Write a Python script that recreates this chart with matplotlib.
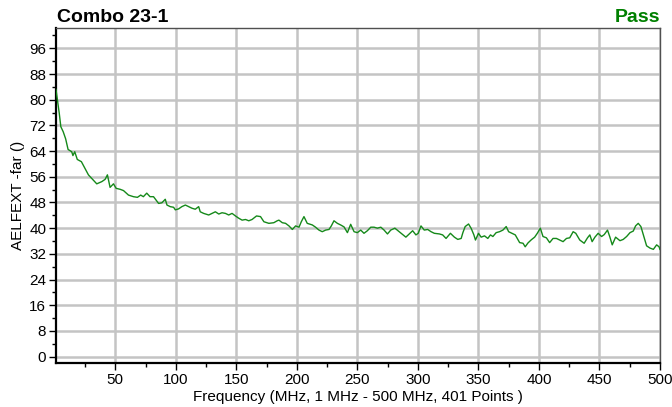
import numpy as np
import matplotlib
matplotlib.use("Agg")
from matplotlib import pyplot as plt
from matplotlib.ticker import MultipleLocator

plt.rcParams['font.family'] = ['Liberation Sans', 'DejaVu Sans']

# frequency (MHz) and AELFEXT far values
freq = [1, 2, 3.7, 5, 7, 9, 11, 14, 15, 16.5, 18.6, 22, 25, 27.8, 30.5, 34.7, 38.9, 41.6, 43.5, 45.7,
        48.5, 50.7, 54, 56.8, 60.9, 65, 68.3, 71, 73.2, 76, 78.7, 81.6, 85.8, 88.5, 91.3, 92.7, 95.4,
        98.2, 99.6, 102.3, 105, 107.9, 110.6, 113.4, 116.1, 118.9, 120.2, 123, 127.2, 129.9, 132.7,
        135.5, 138.2, 141, 143.7, 146.5, 149.3, 152, 154.8, 157.6, 160.3, 163, 166.7, 170, 172.8,
        176.9, 181, 183.8, 185.2, 188, 190.7, 193.5, 196.3, 199, 201.8, 203.7, 205.9, 208.6, 212.8,
        215.5, 218.3, 221, 223.8, 226.6, 228.5, 230.7, 233.5, 236.2, 239, 241.8, 244.5, 247.3, 250,
        252.8, 255.5, 258.3, 261.1, 263.8, 266.6, 269.4, 272.1, 274.9, 277.6, 281, 284.6, 290.1,
        292.9, 295.7, 298.4, 300.3, 302.6, 305.3, 308.1, 310.9, 313.6, 317.8, 320.5, 323.3, 326.9,
        330.2, 333, 335.8, 337.2, 339.1, 341.9, 344.1, 346.3, 347.6, 350.1, 352.3, 355.1, 357.8, 360,
        362, 364.7, 367.5, 370.3, 373, 375, 377.7, 380.5, 384.1, 386.9, 388.7, 391, 393.8, 396.5,
        398.7, 401.2, 403.4, 406.2, 408.9, 411.7, 414.5, 417.2, 420, 422.8, 425.5, 428.3, 430.5,
        433.8, 437.4, 440.2, 442.1, 444, 446.3, 449, 451.8, 454, 456.7, 458.7, 460.6, 463.4, 467,
        469.7, 472.5, 475.3, 478, 479.9, 482.1, 484.3, 486.3, 489, 491.8, 494.6, 497.3, 499.3, 500]
aelfext = [83.2, 80.4, 75.8, 71.6, 70.0, 67.8, 64.5, 63.8, 62.6, 63.8, 61.4, 60.7, 58.6, 56.6, 55.5,
           53.8, 54.5, 55.2, 56.6, 52.7, 53.8, 52.4, 52.1, 51.7, 50.3, 49.8, 49.6, 50.3, 49.8, 50.9,
           49.8, 49.8, 47.7, 47.9, 49.0, 47.2, 46.7, 46.5, 45.7, 46.0, 46.7, 47.2, 46.7, 46.2, 45.9,
           46.7, 45.1, 44.6, 44.1, 44.6, 45.1, 44.4, 44.8, 44.6, 44.1, 44.6, 43.8, 43.1, 42.5, 42.7,
           42.3, 42.7, 43.8, 43.6, 42.0, 41.5, 41.7, 42.3, 42.5, 41.7, 41.5, 40.7, 39.6, 40.7, 40.3,
           42.0, 43.6, 41.5, 41.0, 40.3, 39.4, 38.9, 39.4, 39.6, 40.7, 42.3, 41.5, 41.0, 40.4, 38.6,
           41.2, 38.9, 38.6, 39.4, 38.4, 39.2, 40.3, 40.3, 40.0, 40.3, 39.4, 38.2, 39.4, 40.0, 38.9,
           37.2, 38.2, 39.2, 37.9, 38.4, 40.7, 39.4, 39.6, 38.9, 38.4, 38.2, 37.9, 36.8, 38.4, 37.2,
           36.5, 36.8, 38.6, 40.5, 41.3, 39.9, 37.9, 36.3, 38.4, 37.2, 37.6, 36.8, 37.9, 37.4, 38.6,
           38.9, 39.4, 40.5, 38.9, 38.4, 37.9, 35.5, 35.3, 34.2, 35.4, 36.4, 37.2, 38.4, 40.0, 37.4,
           37.0, 35.5, 36.8, 36.8, 36.3, 35.8, 36.8, 37.0, 38.9, 38.4, 36.3, 35.3, 37.0, 37.9, 35.8,
           37.2, 38.4, 37.4, 38.0, 39.4, 37.2, 34.8, 37.2, 36.1, 36.5, 37.4, 38.6, 39.1, 40.7, 41.5,
           40.5, 37.9, 34.5, 33.8, 33.4, 34.8, 34.2, 33.4]

yticks = np.arange(0, 97, 8)
xticks = np.arange(50, 501, 50)

fig = plt.figure(figsize=(6.72, 4.07), dpi=100)
ax = fig.add_axes([0.0833, 0.108, 0.8987, 0.823])

ax.plot(freq, aelfext, color='#15891a', lw=1.0, zorder=3)

ax.set_xlim(1, 500)
ax.set_ylim(-2, 102.3)
ax.set_xticks(xticks)
ax.set_yticks(yticks)
ax.xaxis.set_minor_locator(MultipleLocator(25))
ax.yaxis.set_minor_locator(MultipleLocator(4))
ax.grid(True, which='major', color='#c4c4c4', lw=1.8, zorder=0)
ax.set_axisbelow(True)

ax.tick_params(axis='both', which='major', labelsize=11, length=5, width=1, direction='out', pad=2)
ax.tick_params(axis='both', which='minor', length=3, width=1, direction='out')
ax.tick_params(top=False, right=False)

for side in ['left', 'bottom']:
    ax.spines[side].set_color('black')
    ax.spines[side].set_linewidth(1.6)
for side in ['top', 'right']:
    ax.spines[side].set_color('#505050')
    ax.spines[side].set_linewidth(1.0)

ax.set_xlabel('Frequency (MHz, 1 MHz - 500 MHz, 401 Points )', fontsize=11, labelpad=2)
ax.set_ylabel('AELFEXT -far ()', fontsize=11, labelpad=3)

fig.text(0.085, 0.945, 'Combo 23-1', fontsize=14, fontweight='bold', ha='left', va='baseline')
fig.text(0.982, 0.945, 'Pass', fontsize=14, fontweight='bold', color='#008000', ha='right', va='baseline')

fig.savefig('out.png', dpi=100)
